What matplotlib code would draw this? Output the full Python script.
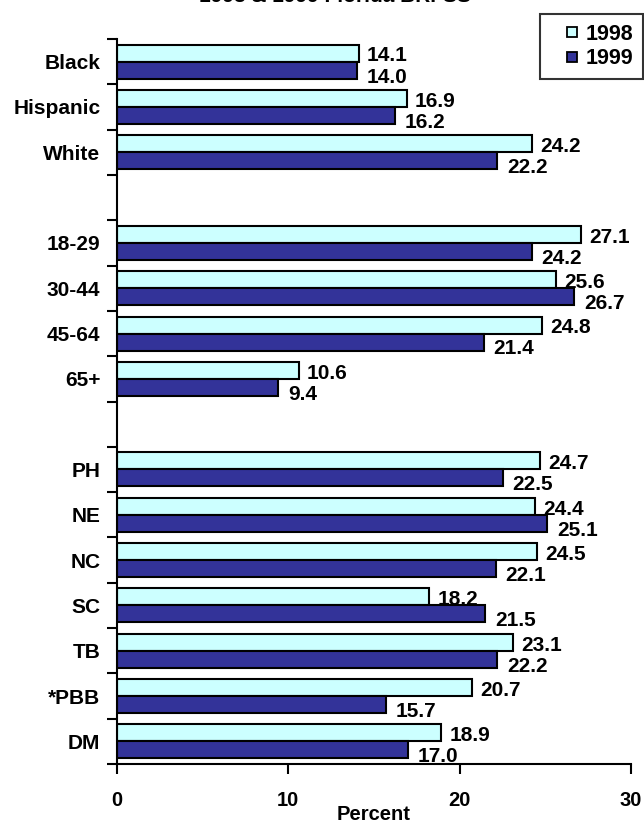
import numpy as np
import matplotlib
matplotlib.use("Agg")
from matplotlib import pyplot as plt
from matplotlib.lines import Line2D

# ------------------------------------------------------------------------------
# Data
# ------------------------------------------------------------------------------
categories = ["Black", "Hispanic", "White", "",
              "18-29", "30-44", "45-64", "65+", "",
              "PH", "NE", "NC", "SC", "TB", "*PBB", "DM"]
vals1998 = [14.1, 16.9, 24.2, None, 27.1, 25.6, 24.8, 10.6, None,
            24.7, 24.4, 24.5, 18.2, 23.1, 20.7, 18.9]
vals1999 = [14.0, 16.2, 22.2, None, 24.2, 26.7, 21.4, 9.4, None,
            22.5, 25.1, 22.1, 21.5, 22.2, 15.7, 17.0]
seriesNames = ["1998", "1999"]
xTicks = [0, 10, 20, 30]
titleText = "1998 & 1999 Florida BRFSS"

# ------------------------------------------------------------------------------
# Plot
# ------------------------------------------------------------------------------
plt.rcParams['font.family'] = ['Liberation Sans', 'DejaVu Sans']
plt.rcParams['font.weight'] = 'bold'

fig = plt.figure(figsize=(6.44, 8.25), dpi=100)
ax = fig.add_axes([117/644, 1-764/825, (631-117)/644, (764-39)/825])

col98 = '#CCFFFF'
col99 = '#333399'
barH = 0.375
pos = np.arange(len(categories))

idx = [i for i, v in enumerate(vals1998) if v is not None]
v98 = [vals1998[i] for i in idx]
v99 = [vals1999[i] for i in idx]
p = pos[idx]

ax.barh(p - barH/2, v98, height=barH, color=col98, edgecolor='black',
        linewidth=1.5)
ax.barh(p + barH/2, v99, height=barH, color=col99, edgecolor='black',
        linewidth=1.5)

for y, v in zip(p, v98):
    ax.annotate(f"{v:.1f}", (v, y - barH/2), xytext=(6, -2),
                textcoords='offset points', ha='left', va='center',
                fontsize=15, fontweight='bold')
for y, v in zip(p, v99):
    ax.annotate(f"{v:.1f}", (v, y + barH/2), xytext=(7, -5),
                textcoords='offset points', ha='left', va='center',
                fontsize=15, fontweight='bold')

ax.set_xlim(0, 30)
ax.set_ylim(len(categories) - 0.5, -0.5)
ax.set_xticks(xTicks)
ax.set_xticklabels([str(t) for t in xTicks])
ax.set_yticks(np.arange(len(categories) + 1) - 0.5)
ax.set_yticklabels([])
ax.set_yticks(pos, minor=True)
ax.set_yticklabels(categories, minor=True, fontsize=15, fontweight='bold')
ax.tick_params(axis='y', which='major', direction='out', length=7, width=1.5)
ax.tick_params(axis='y', which='minor', length=0, pad=12)
ax.tick_params(axis='x', direction='out', length=7, width=1.5, pad=12.5,
               labelsize=14.5)
ax.set_xlabel("Percent", fontsize=14.5, fontweight='bold', labelpad=-4)

for s in ['top', 'right']:
    ax.spines[s].set_visible(False)
for s in ['left', 'bottom']:
    ax.spines[s].set_linewidth(1.5)

handles = [Line2D([], [], linestyle='none', marker='s', markersize=7.5,
                  markerfacecolor=c, markeredgecolor='black',
                  markeredgewidth=1.3) for c in (col98, col99)]
leg = fig.legend(handles=handles, labels=seriesNames, loc='upper right',
                 bbox_to_anchor=(643/644, 1-14/825), fontsize=15.5,
                 frameon=True, fancybox=False, edgecolor='black',
                 handlelength=2.07, handletextpad=-0.39, borderpad=0.45,
                 labelspacing=0.16, borderaxespad=0)
leg.get_frame().set_linewidth(1.5)

fig.text(335/644, 1-6/825, titleText, ha='center', va='bottom',
         fontsize=15, fontweight='bold')

fig.savefig("out.png", dpi=100)
